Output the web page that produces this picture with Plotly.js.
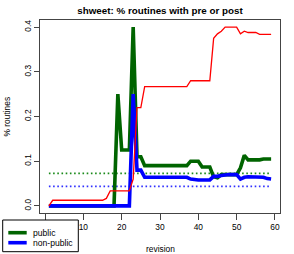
<!DOCTYPE html>
<html><head><meta charset="utf-8">
<script src="https://cdn.plot.ly/plotly-3.0.1.min.js"></script>
<style>html,body{margin:0;padding:0;background:#fff}#chart{width:294px;height:254px}</style>
</head><body><div id="chart"></div>
<script>
const revision = [1,2,3,4,5,6,7,8,9,10,11,12,13,14,15,16,17,18,19,20,21,22,23,24,25,26,27,28,29,30,31,32,33,34,35,36,37,38,39,40,41,42,43,44,45,46,47,48,49,50,51,52,53,54,55,56,57,58,59];
const publicShare = [0,0,0,0,0,0,0,0,0,0,0,0,0,0,0,0,0,0,0.25,0.125,0.125,0.125,0.4,0.11,0.11,0.09,0.09,0.09,0.09,0.09,0.09,0.09,0.09,0.09,0.09,0.09,0.09,0.1,0.1,0.1,0.087,0.087,0.087,0.065,0.063,0.07,0.07,0.07,0.07,0.07,0.085,0.113,0.103,0.103,0.103,0.103,0.105,0.105,0.105];
const nonPublicShare = [0,0,0,0,0,0,0,0,0,0,0,0,0,0,0,0,0,0,0,0,0,0,0.25,0.08,0.08,0.064,0.064,0.064,0.064,0.064,0.064,0.064,0.064,0.064,0.064,0.064,0.064,0.06,0.058,0.058,0.058,0.058,0.058,0.066,0.066,0.068,0.07,0.07,0.07,0.07,0.06,0.064,0.065,0.065,0.065,0.065,0.064,0.061,0.06];
const allShare = [0,0.0125,0.0125,0.0125,0.0125,0.0125,0.0125,0.0125,0.0125,0.0125,0.0125,0.0125,0.0125,0.0125,0.0125,0.0167,0.0333,0.0333,0.0333,0.0333,0.0333,0.0333,0.06,0.22,0.22,0.267,0.267,0.267,0.267,0.267,0.267,0.267,0.267,0.267,0.267,0.267,0.267,0.28,0.28,0.28,0.28,0.28,0.28,0.375,0.385,0.391,0.4,0.4,0.4,0.4,0.385,0.391,0.388,0.388,0.388,0.384,0.384,0.384,0.384];
const xTickVals = [0,10,20,30,40,50,60];
const xTickText = ['','10','20','30','40','50','60'];
const yTickVals = [0,0.1,0.2,0.3,0.4];
const yTickText = ['0.0','0.1','0.2','0.3','0.4'];
const legendLabels = ['public','non-public'];
const chartTitle = 'shweet: % routines with pre or post';
const xTitle = 'revision';
const yTitle = '% routines';

const GREEN = '#006400', BLUE = '#0000ff', RED = '#ff0000';
const FONT = 'Liberation Sans, Arial, Helvetica, sans-serif';
const mean = a => a.reduce((s, v) => s + v, 0) / a.length;
const xEnds = [revision[0], revision[revision.length - 1]];

const traces = [
  {x: xEnds, y: [mean(publicShare), mean(publicShare)], type: 'scatter', mode: 'lines', line: {color: '#1a8a1a', width: 1.6, dash: '1.6px,2.6px'}},
  {x: xEnds, y: [mean(nonPublicShare), mean(nonPublicShare)], type: 'scatter', mode: 'lines', line: {color: '#3030ff', width: 1.6, dash: '1.6px,2.6px'}},
  {x: revision, y: publicShare, type: 'scatter', mode: 'lines', line: {color: GREEN, width: 3.6}, name: legendLabels[0]},
  {x: revision, y: nonPublicShare, type: 'scatter', mode: 'lines', line: {color: BLUE, width: 3.6}, name: legendLabels[1]},
  {x: revision, y: allShare, type: 'scatter', mode: 'lines', line: {color: RED, width: 1.3}, name: 'all'}
];

const L = 40, T = 20, W = 240, H = 193;
const px = v => (v - L) / W;
const py = v => (T + H - v) / H;

const layout = {
  width: 294, height: 254,
  margin: {l: 40, r: 14, t: 20, b: 41, pad: 0},
  paper_bgcolor: '#fff', plot_bgcolor: '#fff',
  showlegend: false,
  font: {family: FONT, size: 8.4, color: '#000'},
  title: {text: '<b>' + chartTitle + '</b>', font: {family: FONT, size: 9.8, color: '#000'},
          xref: 'paper', x: 0.5, xanchor: 'center', yref: 'container', y: 1 - 10.7 / 254, yanchor: 'middle'},
  xaxis: {range: [-1.32, 61.32], showgrid: false, zeroline: false, showline: true, mirror: true,
          linecolor: '#444', linewidth: 1, ticks: 'outside', ticklen: 6, tickcolor: '#444', tickwidth: 1,
          tickvals: xTickVals, ticktext: xTickText, tickfont: {size: 8.4}},
  yaxis: {range: [-0.016, 0.416], showgrid: false, zeroline: false, showline: true, mirror: true,
          linecolor: '#444', linewidth: 1, ticks: 'outside', ticklen: 5, tickcolor: '#444', tickwidth: 1,
          tickvals: yTickVals, ticktext: yTickText, tickangle: -90, tickfont: {size: 8.4}},
  shapes: [
    {type: 'rect', xref: 'paper', yref: 'paper', x0: px(2.7), x1: px(78.3), y0: py(220), y1: py(251.7),
     fillcolor: '#fff', line: {color: '#000', width: 1}, layer: 'above'},
    {type: 'line', xref: 'paper', yref: 'paper', x0: px(8.3), x1: px(26.7), y0: py(232.7), y1: py(232.7),
     line: {color: GREEN, width: 3.6}, layer: 'above'},
    {type: 'line', xref: 'paper', yref: 'paper', x0: px(8.3), x1: px(26.7), y0: py(242.7), y1: py(242.7),
     line: {color: BLUE, width: 3.6}, layer: 'above'}
  ],
  annotations: [
    {text: xTitle, xref: 'paper', yref: 'paper', x: 0.5, y: py(248.5), xanchor: 'center', yanchor: 'middle', showarrow: false, font: {size: 8.4}},
    {text: yTitle, xref: 'paper', yref: 'paper', x: px(6), y: 0.5, xanchor: 'center', yanchor: 'middle', textangle: -90, showarrow: false, font: {size: 8.4}},
    {text: legendLabels[0], xref: 'paper', yref: 'paper', x: px(31.3), y: py(232.7), xanchor: 'left', yanchor: 'middle', showarrow: false, font: {size: 8.6}},
    {text: legendLabels[1], xref: 'paper', yref: 'paper', x: px(31.3), y: py(242.7), xanchor: 'left', yanchor: 'middle', showarrow: false, font: {size: 8.6}}
  ]
};

Plotly.newPlot('chart', traces, layout, {displayModeBar: false, staticPlot: true});
</script></body></html>
